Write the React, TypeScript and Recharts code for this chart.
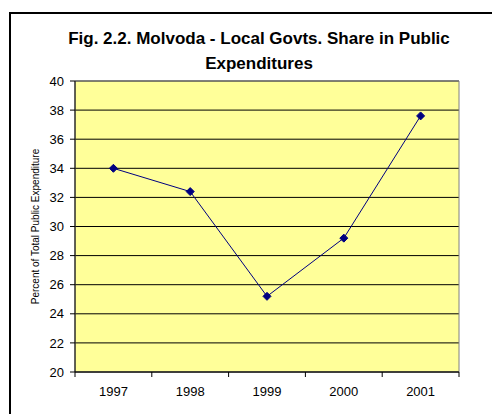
import { CartesianGrid, Label, Line, LineChart, ReferenceArea, XAxis, YAxis } from "recharts";

const years = ["1997", "1998", "1999", "2000", "2001"];
const shares = [34.0, 32.4, 25.2, 29.2, 37.6];
const yTicks = [20, 22, 24, 26, 28, 30, 32, 34, 36, 38, 40];

const data = years.map((year, i) => ({ year, share: shares[i] }));

const FONT = "Arial, 'Liberation Sans', sans-serif";

function Diamond(props: any) {
  const { cx, cy } = props;
  if (cx == null || cy == null) return null;
  const r = 4;
  return (
    <polygon
      points={`${cx},${cy - r} ${cx + r},${cy} ${cx},${cy + r} ${cx - r},${cy}`}
      fill="#000080"
      stroke="#000080"
    />
  );
}

// Excel puts the category ticks on the band edges, not under the labels
function YearTick(props: any) {
  const { x, y, payload, index, visibleTicksCount } = props;
  const half = payload?.offset || 38.4;
  return (
    <g>
      <line x1={x - half} y1={y - 8} x2={x - half} y2={y - 3} stroke="#000" />
      {index === visibleTicksCount - 1 && (
        <line x1={x + half} y1={y - 8} x2={x + half} y2={y - 3} stroke="#000" />
      )}
      <text x={x} y={y + 16} textAnchor="middle" fontSize={13} fontFamily={FONT} fill="#000">
        {payload.value}
      </text>
    </g>
  );
}

export default function App() {
  return (
    <div style={{ position: "fixed", left: 0, top: 0, width: 492, height: 414, overflow: "hidden", background: "#fff" }}>
      <div
        style={{
          position: "absolute",
          left: 9,
          top: 12,
          width: 520,
          height: 440,
          border: "2px solid #000",
        }}
      />
      <div
        style={{
          position: "absolute",
          left: 59,
          top: 26,
          width: 400,
          textAlign: "center",
          fontFamily: FONT,
          fontWeight: "bold",
          fontSize: 17,
          lineHeight: "25px",
          color: "#000",
        }}
      >
        Fig. 2.2. Molvoda - Local Govts. Share in Public
        <br />
        Expenditures
      </div>
      <div style={{ position: "absolute", left: 0, top: 0 }}>
        <LineChart width={492} height={414} data={data} margin={{ top: 81, right: 33, bottom: 12, left: 15 }}>
          <CartesianGrid vertical={false} stroke="#000" fill="#FFFF99" fillOpacity={1} />
          <ReferenceArea y1={20} y2={40} fill="none" stroke="#808080" ifOverflow="visible" />
          <XAxis
            dataKey="year"
            scale="band"
            height={30}
            axisLine={{ stroke: "#000" }}
            tickLine={false}
            tick={<YearTick />}
            interval={0}
          />
          <YAxis
            width={60}
            domain={[20, 40]}
            ticks={yTicks}
            interval={0}
            axisLine={{ stroke: "#000" }}
            tickLine={{ stroke: "#000" }}
            tickSize={5}
            tickMargin={6}
            tick={{ fontSize: 13, fontFamily: FONT, fill: "#000" }}
          >
            <Label
              value="Percent of Total Public Expenditure"
              angle={-90}
              position="insideLeft"
              offset={20}
              textAnchor="middle"
              style={{ fontSize: 10, fontFamily: FONT, fill: "#000" }}
            />
          </YAxis>
          <Line
            dataKey="share"
            stroke="#000080"
            strokeWidth={1}
            dot={<Diamond />}
            activeDot={false}
            isAnimationActive={false}
          />
        </LineChart>
      </div>
    </div>
  );
}
